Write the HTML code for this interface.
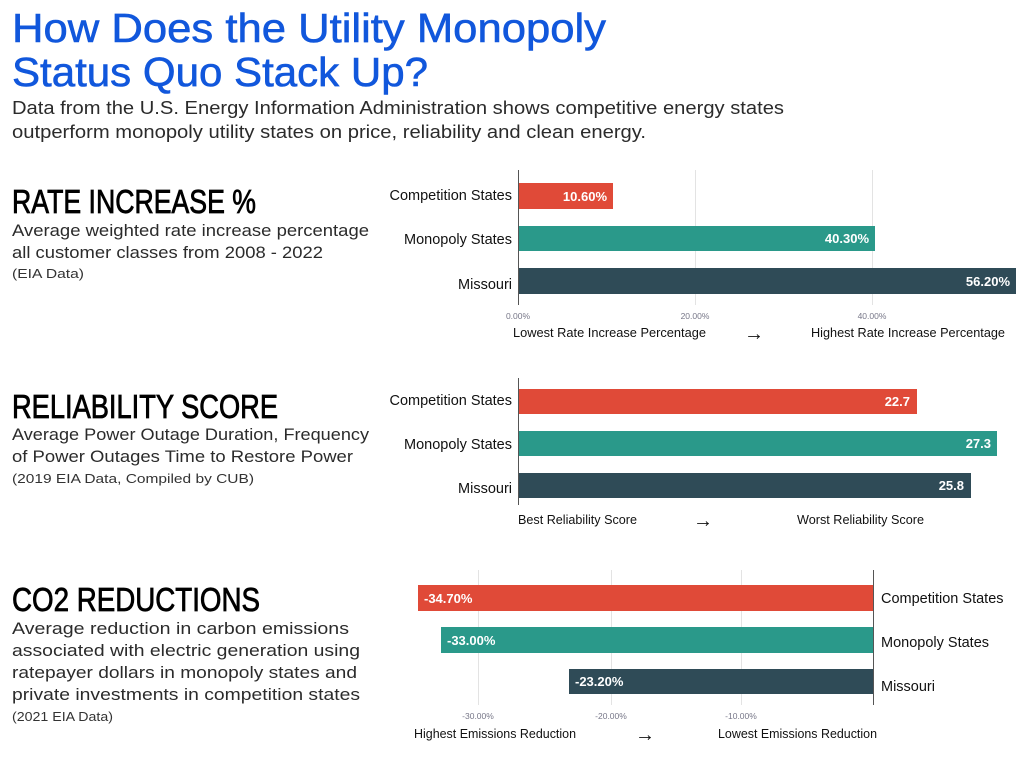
<!DOCTYPE html>
<html><head><meta charset="utf-8"><style>
html,body{margin:0;padding:0;background:#fff;}
svg{display:block;}
text{font-family:"Liberation Sans",sans-serif;}
</style></head><body>
<svg width="1024" height="768" viewBox="0 0 1024 768" xmlns="http://www.w3.org/2000/svg">
<rect width="1024" height="768" fill="#fff"/>
<g fill="#1157dc" stroke="#1157dc" stroke-width="0.6" font-size="41">
<text x="12" y="42" textLength="594" lengthAdjust="spacingAndGlyphs">How Does the Utility Monopoly</text>
<text x="12" y="86" textLength="416" lengthAdjust="spacingAndGlyphs">Status Quo Stack Up?</text>
</g>
<g fill="#2b2b2b" font-size="18">
<text x="12" y="114" textLength="772" lengthAdjust="spacingAndGlyphs">Data from the U.S. Energy Information Administration shows competitive energy states</text>
<text x="12" y="138" textLength="634" lengthAdjust="spacingAndGlyphs">outperform monopoly utility states on price, reliability and clean energy.</text>
</g>
<g fill="#000" stroke="#000" stroke-width="0.8" font-size="33">
<text x="12" y="213" textLength="244" lengthAdjust="spacingAndGlyphs">RATE INCREASE %</text>
<text x="12" y="418" textLength="266" lengthAdjust="spacingAndGlyphs">RELIABILITY SCORE</text>
<text x="12" y="611" textLength="248" lengthAdjust="spacingAndGlyphs">CO2 REDUCTIONS</text>
</g>
<g fill="#2b2b2b" font-size="17">
<text x="12" y="236" textLength="357" lengthAdjust="spacingAndGlyphs">Average weighted rate increase percentage</text>
<text x="12" y="258" textLength="311" lengthAdjust="spacingAndGlyphs">all customer classes from 2008 - 2022</text>
<text x="12" y="440" textLength="357" lengthAdjust="spacingAndGlyphs">Average Power Outage Duration, Frequency</text>
<text x="12" y="462" textLength="341" lengthAdjust="spacingAndGlyphs">of Power Outages Time to Restore Power</text>
<text x="12" y="634" textLength="337" lengthAdjust="spacingAndGlyphs">Average reduction in carbon emissions</text>
<text x="12" y="656" textLength="348" lengthAdjust="spacingAndGlyphs">associated with electric generation using</text>
<text x="12" y="678" textLength="345" lengthAdjust="spacingAndGlyphs">ratepayer dollars in monopoly states and</text>
<text x="12" y="700" textLength="348" lengthAdjust="spacingAndGlyphs">private investments in competition states</text>
</g>
<g fill="#333" font-size="13">
<text x="12" y="278" textLength="72" lengthAdjust="spacingAndGlyphs">(EIA Data)</text>
<text x="12" y="483" textLength="242" lengthAdjust="spacingAndGlyphs">(2019 EIA Data, Compiled by CUB)</text>
<text x="12" y="721" textLength="101" lengthAdjust="spacingAndGlyphs">(2021 EIA Data)</text>
</g>

<g stroke="#e3e3e3" stroke-width="1">
<line x1="695.5" y1="170" x2="695.5" y2="305"/>
<line x1="872.5" y1="170" x2="872.5" y2="305"/>
</g>
<line x1="518.5" y1="170" x2="518.5" y2="305" stroke="#555" stroke-width="1"/>
<rect x="519" y="183" width="94" height="26" fill="#e04a38"/>
<rect x="519" y="226" width="356" height="25" fill="#2a998a"/>
<rect x="519" y="268" width="497" height="26" fill="#2f4b57"/>
<g fill="#fff" font-size="13" font-weight="bold" text-anchor="end">
<text x="607" y="201">10.60%</text>
<text x="869" y="243">40.30%</text>
<text x="1010" y="286">56.20%</text>
</g>
<g fill="#111" font-size="14.5" text-anchor="end">
<text x="512" y="200">Competition States</text>
<text x="512" y="244">Monopoly States</text>
<text x="512" y="289">Missouri</text>
</g>
<g fill="#778" font-size="8.5" text-anchor="middle">
<text x="518" y="319">0.00%</text>
<text x="695" y="319">20.00%</text>
<text x="872" y="319">40.00%</text>
</g>
<g fill="#111" font-size="13">
<text x="513" y="337" textLength="193" lengthAdjust="spacingAndGlyphs">Lowest Rate Increase Percentage</text>
<text x="744" y="340" font-size="20">→</text>
<text x="811" y="337" textLength="194" lengthAdjust="spacingAndGlyphs">Highest Rate Increase Percentage</text>
</g>

<line x1="518.5" y1="378" x2="518.5" y2="505" stroke="#555" stroke-width="1"/>
<rect x="519" y="389" width="398" height="25" fill="#e04a38"/>
<rect x="519" y="431" width="478" height="25" fill="#2a998a"/>
<rect x="519" y="473" width="452" height="25" fill="#2f4b57"/>
<g fill="#fff" font-size="13" font-weight="bold" text-anchor="end">
<text x="910" y="406">22.7</text>
<text x="991" y="448">27.3</text>
<text x="964" y="490">25.8</text>
</g>
<g fill="#111" font-size="14.5" text-anchor="end">
<text x="512" y="405">Competition States</text>
<text x="512" y="449">Monopoly States</text>
<text x="512" y="493">Missouri</text>
</g>
<g fill="#111" font-size="13">
<text x="518" y="524" textLength="119" lengthAdjust="spacingAndGlyphs">Best Reliability Score</text>
<text x="693" y="527" font-size="20">→</text>
<text x="797" y="524" textLength="127" lengthAdjust="spacingAndGlyphs">Worst Reliability Score</text>
</g>

<g stroke="#e3e3e3" stroke-width="1">
<line x1="478.5" y1="570" x2="478.5" y2="705"/>
<line x1="611.5" y1="570" x2="611.5" y2="705"/>
<line x1="741.5" y1="570" x2="741.5" y2="705"/>
</g>
<rect x="418" y="585" width="455" height="26" fill="#e04a38"/>
<rect x="441" y="627" width="432" height="26" fill="#2a998a"/>
<rect x="569" y="669" width="304" height="25" fill="#2f4b57"/>
<line x1="873.5" y1="570" x2="873.5" y2="705" stroke="#555" stroke-width="1"/>
<g fill="#fff" font-size="13" font-weight="bold">
<text x="424" y="603">-34.70%</text>
<text x="447" y="645">-33.00%</text>
<text x="575" y="686">-23.20%</text>
</g>
<g fill="#111" font-size="14.5">
<text x="881" y="603">Competition States</text>
<text x="881" y="647">Monopoly States</text>
<text x="881" y="691">Missouri</text>
</g>
<g fill="#778" font-size="8.5" text-anchor="middle">
<text x="478" y="719">-30.00%</text>
<text x="611" y="719">-20.00%</text>
<text x="741" y="719">-10.00%</text>
</g>
<g fill="#111" font-size="13">
<text x="414" y="738" textLength="162" lengthAdjust="spacingAndGlyphs">Highest Emissions Reduction</text>
<text x="635" y="741" font-size="20">→</text>
<text x="718" y="738" textLength="159" lengthAdjust="spacingAndGlyphs">Lowest Emissions Reduction</text>
</g>
</svg>
</body></html>
